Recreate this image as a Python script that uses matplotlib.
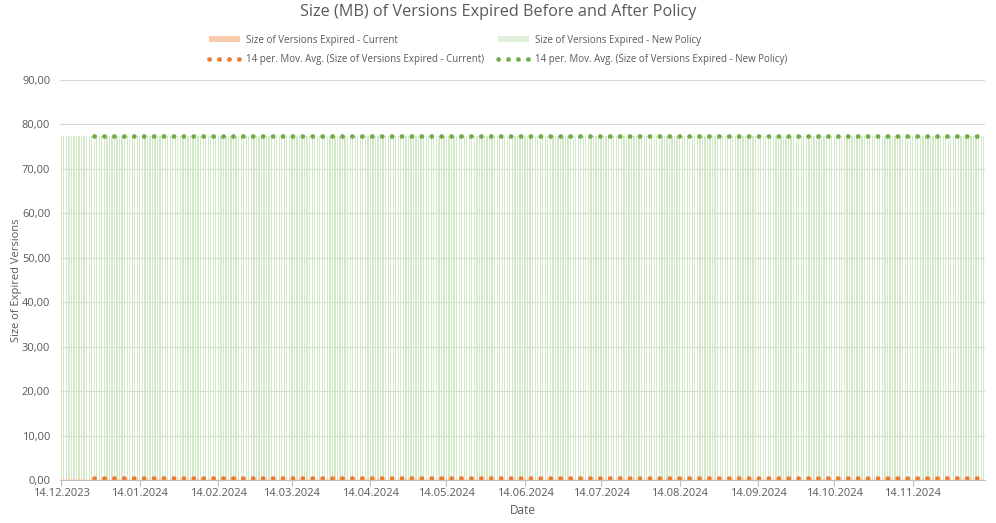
import numpy as np
import pandas as pd
import matplotlib
matplotlib.use("Agg")
import matplotlib.pyplot as plt
import matplotlib.dates as mdates
from matplotlib.ticker import FuncFormatter, MultipleLocator
from matplotlib.patches import Patch
from matplotlib.lines import Line2D

plt.rcParams["font.family"] = ["Open Sans", "DejaVu Sans"]

# ── Data ─────────────────────────────────────────────────────────
dates = pd.date_range("2023-12-14", "2024-12-12", freq="D")
size_current = [0.35] * len(dates)        # MB per day, current policy
size_new_policy = [77.3] * len(dates)     # MB per day, new policy
ma_window = 14

tick_dates = pd.date_range("2023-12-14", "2024-11-14", freq="MS") + pd.Timedelta(days=13)
tick_dates = [pd.Timestamp("2023-12-14")] + [d for d in tick_dates if d > pd.Timestamp("2023-12-14")]

# ── Moving averages (Excel-style trendline) ──────────────────────
ma_current = pd.Series(size_current, index=dates).rolling(ma_window).mean()
ma_new = pd.Series(size_new_policy, index=dates).rolling(ma_window).mean()

# ── Figure ────────────────────────────────────────────────────────
fig = plt.figure(figsize=(9.96, 5.23), dpi=100)
ax = fig.add_axes([60 / 996, 1 - 480 / 523, 925 / 996, 400 / 523])

dot_style = dict(linestyle=(0, (0.05, 2.05)), dash_capstyle="round", linewidth=3.4)

x = mdates.date2num(dates)
ax.bar(x, size_new_policy, width=0.5, color="#D3E8C6", linewidth=0, zorder=2)
ax.bar(x, size_current, width=0.5, color="#F8CBAD", linewidth=0, zorder=3)

ax.plot(x, ma_current.values, color="#ED7D31", zorder=4, **dot_style)
ax.plot(x, ma_new.values, color="#70AD47", zorder=4, **dot_style)

ax.set_xlim(x[0] - 0.5, x[-1] + 0.5)
ax.set_ylim(0, 90)
ax.yaxis.set_major_locator(MultipleLocator(10))
ax.yaxis.set_major_formatter(FuncFormatter(lambda v, p: f"{v:.2f}".replace(".", ",")))
ax.set_xticks(mdates.date2num(tick_dates))
ax.set_xticklabels([d.strftime("%d.%m.%Y") for d in tick_dates])

ax.grid(axis="y", color="#D9D9D9", linewidth=0.8, zorder=0)
ax.set_axisbelow(True)
for side in ["top", "right", "left"]:
    ax.spines[side].set_visible(False)
ax.spines["bottom"].set_color("#BFBFBF")
ax.tick_params(axis="y", length=0, labelsize=8, colors="#595959", pad=7)
ax.tick_params(axis="x", length=4, color="#BFBFBF", labelsize=8, colors="#595959", pad=2)

ax.set_xlabel("Date", fontsize=8.5, color="#595959", labelpad=3)
ax.set_ylabel("Size of Expired Versions", fontsize=8, color="#595959", labelpad=0)
fig.text(0.5, 1 - 12 / 523, "Size (MB) of Versions Expired Before and After Policy",
         ha="center", va="center", fontsize=11.7, color="#595959")

handles = [
    Patch(facecolor="#F8CBAD", edgecolor="none"),
    Line2D([0], [0], color="#ED7D31", **dot_style),
    Patch(facecolor="#E2EFDA", edgecolor="none"),
    Line2D([0], [0], color="#70AD47", **dot_style),
]
labels = [
    "Size of Versions Expired - Current",
    "14 per. Mov. Avg. (Size of Versions Expired - Current)",
    "Size of Versions Expired - New Policy",
    "14 per. Mov. Avg. (Size of Versions Expired - New Policy)",
]
leg = fig.legend(handles, labels, ncol=2, loc="center", bbox_to_anchor=(0.5, 1 - 50 / 523),
                 frameon=False, fontsize=7, handlelength=3.2, handleheight=0.5,
                 handletextpad=0.6, columnspacing=1.5, labelspacing=0.9)
for t in leg.get_texts():
    t.set_color("#595959")

fig.savefig("out.png", dpi=100)
